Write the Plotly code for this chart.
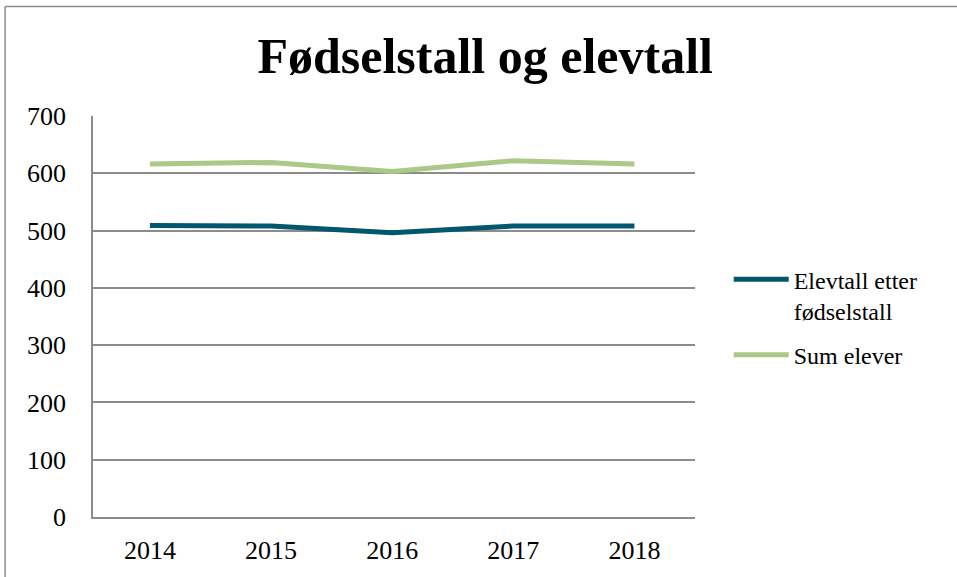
import plotly.graph_objects as go

# data
years = ['2014', '2015', '2016', '2017', '2018']
elevtall_etter_fodsel = [509, 508, 496, 508, 508]
sum_elever = [616, 619, 603, 622, 616]
y_ticks = [0, 100, 200, 300, 400, 500, 600, 700]

FONT = "Liberation Serif"
GRID = "#8c8c8c"

fig = go.Figure()
fig.add_trace(go.Scatter(x=years, y=elevtall_etter_fodsel, mode='lines',
                         name='Elevtall etter<br>fødselstall', legendgroup='a',
                         line=dict(color="#01576e", width=5)))
fig.add_trace(go.Scatter(x=years, y=sum_elever, mode='lines',
                         name='Sum elever', legendgroup='b',
                         line=dict(color="#abc888", width=5)))

fig.update_layout(
    width=957, height=577,
    margin=dict(l=93, r=262, t=116, b=60),
    paper_bgcolor="white", plot_bgcolor="white",
    font=dict(family=FONT, size=26, color="black"),
    title=dict(text="<b>Fødselstall og elevtall</b>", x=0.507, xanchor="center",
               y=0.903, yanchor="middle",
               font=dict(family=FONT, size=50, color="black")),
    showlegend=True,
    legend=dict(x=1.056, y=0.648, xanchor="left", yanchor="top",
                itemwidth=55, tracegroupgap=10, valign="top",
                font=dict(family=FONT, size=24), bgcolor="rgba(0,0,0,0)"),
    xaxis=dict(type="category", range=[-0.47, 4.5], showgrid=False,
               showline=True, linecolor=GRID, linewidth=1.5, automargin=False,
               ticks="", tickfont=dict(size=26), ticklabelstandoff=9),
    yaxis=dict(range=[0, 700], tickvals=y_ticks, showgrid=True,
               gridcolor=GRID, gridwidth=1.5, zeroline=False, automargin=False,
               showline=True, linecolor=GRID, linewidth=1.5,
               ticks="", tickfont=dict(size=26), ticklabelstandoff=20),
    shapes=[
        dict(type="line", xref="paper", yref="paper", x0=-0.146, x1=-0.146,
             y0=-0.2, y1=1.273, line=dict(color="#8c8c8c", width=1.5)),
        dict(type="line", xref="paper", yref="paper", x0=-0.146, x1=1.6,
             y0=1.273, y1=1.273, line=dict(color="#8c8c8c", width=1.5)),
    ],
)

fig.write_html("out.html", config={"displayModeBar": False},
               post_script="document.body.style.margin='0';")
